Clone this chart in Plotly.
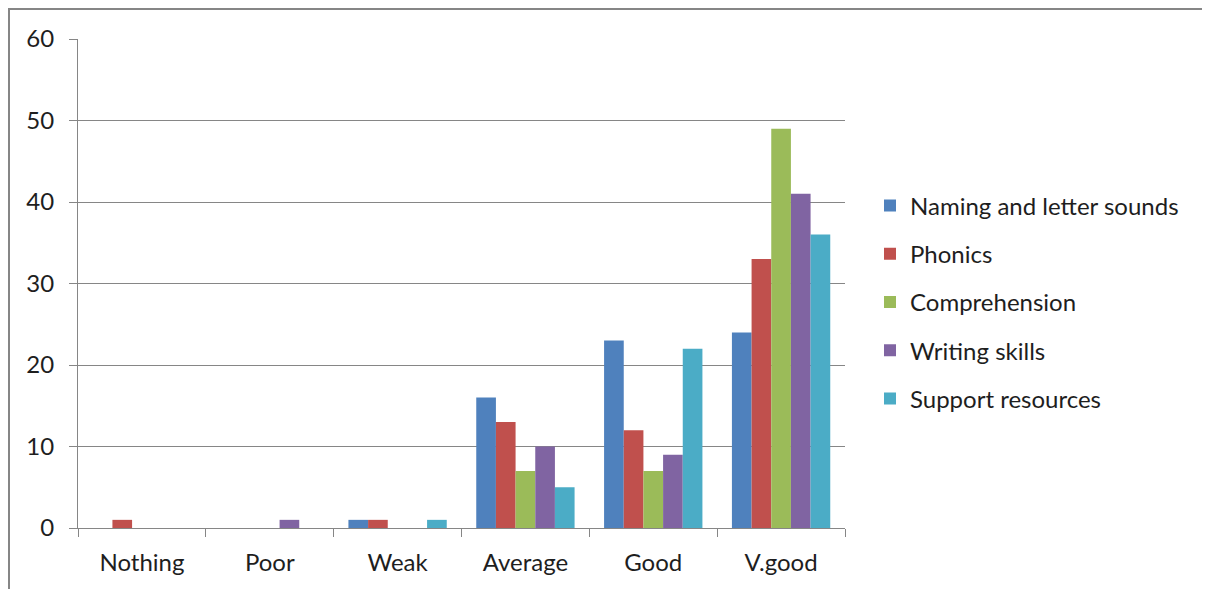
import plotly.graph_objects as go

categories = ["Nothing", "Poor", "Weak", "Average", "Good", "V.good"]
series_names = ["Naming and letter sounds", "Phonics", "Comprehension", "Writing skills", "Support resources"]
naming = [0, 0, 1, 16, 23, 24]
phonics = [1, 0, 1, 13, 12, 33]
comprehension = [0, 0, 0, 7, 7, 49]
writing = [0, 1, 0, 10, 9, 41]
support = [0, 0, 1, 5, 22, 36]
colors = ["#4F81BD", "#C0504D", "#9BBB59", "#8064A2", "#4BACC6"]
y_ticks = [0, 10, 20, 30, 40, 50, 60]

OFF = 8  # page body margin
W, H = 1210 - OFF, 589 - OFF
L, R, T, B = 78 - OFF, 845 - OFF, 39 - OFF, 528 - OFF

fig = go.Figure()
for i, (name, vals) in enumerate(zip(series_names, [naming, phonics, comprehension, writing, support])):
    fig.add_trace(go.Bar(x=categories, y=vals, name=name, marker=dict(color=colors[i], line=dict(width=0)),
                         legendgroup=f"g{i}"))

txt = "#1e1e1e"
font = dict(family="Lato, 'Open Sans', sans-serif", size=24, color=txt)
fig.update_layout(
    width=W, height=H,
    margin=dict(l=L, r=W - R, t=T, b=H - B, pad=0),
    paper_bgcolor="white", plot_bgcolor="white",
    barmode="group", bargap=1.5 / 6.5, bargroupgap=0,
    font=font,
    showlegend=True,
    legend=dict(x=(870 - OFF - L) / (R - L), y=(B - (302 - OFF)) / (B - T), xanchor="left", yanchor="middle",
                font=dict(size=24, color=txt), tracegroupgap=14,
                itemwidth=30, bgcolor="rgba(0,0,0,0)"),
    xaxis=dict(type="category", showgrid=False, showline=True, linecolor="#868686", linewidth=1,
               ticks="outside", tickson="boundaries", ticklen=8, tickcolor="#868686",
               tickfont=dict(size=24, color=txt), ticklabelstandoff=13),
    yaxis=dict(range=[0, 60], tickvals=y_ticks, showgrid=True, gridcolor="#868686", gridwidth=1,
               showline=True, linecolor="#868686", linewidth=1, ticks="outside", ticklen=8,
               tickcolor="#868686", zeroline=False, tickfont=dict(size=24, color=txt),
               ticklabelstandoff=10),
    shapes=[dict(type="rect", xref="paper", yref="paper",
                 x0=(9 - OFF - L) / (R - L), x1=(W + 40 - L) / (R - L),
                 y0=(B - (H + 40)) / (B - T), y1=(B - (9 - OFF)) / (B - T),
                 line=dict(color="#868686", width=2), fillcolor="rgba(0,0,0,0)", layer="below")],
)
fig.write_html("out.html")
